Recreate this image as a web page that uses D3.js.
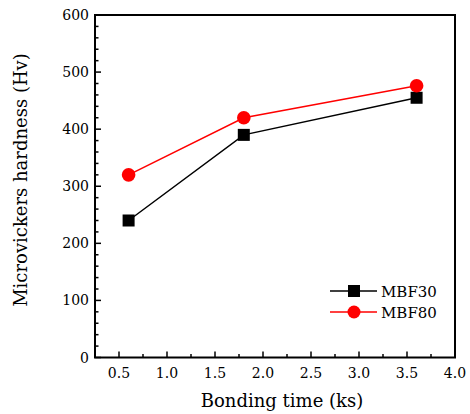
<!DOCTYPE html>
<html><head><meta charset="utf-8">
<script src="https://cdn.jsdelivr.net/npm/d3@7"></script>
<style>body{margin:0;background:#fff}svg{display:block}text{font-family:"DejaVu Serif",serif}</style>
</head><body><svg id="c" width="470" height="414"></svg>
<script>
const times = [0.6, 1.8, 3.6];
const mbf30 = [240, 390, 455];
const mbf80 = [320, 420, 476];
const xTicks = [0.5,1.0,1.5,2.0,2.5,3.0,3.5,4.0];
const yTicks = [0,100,200,300,400,500,600];

const svg = d3.select("#c");
const m = {l:95, t:15, r:455, b:357.5};
const x = d3.scaleLinear().domain([0.25,4.0]).range([m.l,m.r]);
const y = d3.scaleLinear().domain([0,600]).range([m.b,m.t]);

// frame
svg.append("rect").attr("x",m.l).attr("y",m.t).attr("width",m.r-m.l).attr("height",m.b-m.t)
  .attr("fill","none").attr("stroke","#000").attr("stroke-width",2);

// x ticks
const xMinor = d3.range(0.75,4.0,0.5);
svg.selectAll(".xt").data(xTicks).enter().append("line")
  .attr("x1",d=>x(d)).attr("x2",d=>x(d)).attr("y1",m.b).attr("y2",m.b-6).attr("stroke","#000").attr("stroke-width",1.5);
svg.selectAll(".xm").data(xMinor).enter().append("line")
  .attr("x1",d=>x(d)).attr("x2",d=>x(d)).attr("y1",m.b).attr("y2",m.b-3.5).attr("stroke","#000").attr("stroke-width",1.5);
svg.selectAll(".xl").data(xTicks).enter().append("text")
  .attr("x",d=>x(d)).attr("y",m.b+20).attr("text-anchor","middle").attr("font-size",14).text(d=>d.toFixed(1));

// y ticks
const yMinor = d3.range(0,601,20).filter(v=>v%100!==0);
svg.selectAll(".yt").data(yTicks).enter().append("line")
  .attr("x1",m.l).attr("x2",m.l+6).attr("y1",d=>y(d)).attr("y2",d=>y(d)).attr("stroke","#000").attr("stroke-width",1.5);
svg.selectAll(".ym").data(yMinor).enter().append("line")
  .attr("x1",m.l).attr("x2",m.l+3.5).attr("y1",d=>y(d)).attr("y2",d=>y(d)).attr("stroke","#000").attr("stroke-width",1.5);
svg.selectAll(".yl").data(yTicks).enter().append("text")
  .attr("x",m.l-6).attr("y",d=>y(d)+5).attr("text-anchor","end").attr("font-size",14).text(d=>d);

// titles
svg.append("text").attr("x",282).attr("y",407).attr("text-anchor","middle").attr("font-size",18).text("Bonding time (ks)");
svg.append("text").attr("transform",`translate(27,180) rotate(-90)`).attr("text-anchor","middle").attr("font-size",18).text("Microvickers hardness (Hv)");

const line = d3.line().x(d=>x(d[0])).y(d=>y(d[1]));
const s30 = times.map((t,i)=>[t,mbf30[i]]);
const s80 = times.map((t,i)=>[t,mbf80[i]]);
svg.append("path").attr("d",line(s30)).attr("fill","none").attr("stroke","#000").attr("stroke-width",1.5);
svg.append("path").attr("d",line(s80)).attr("fill","none").attr("stroke","#f00").attr("stroke-width",1.5);
svg.selectAll(".sq").data(s30).enter().append("rect")
  .attr("x",d=>x(d[0])-6).attr("y",d=>y(d[1])-6).attr("width",12).attr("height",12).attr("fill","#000");
svg.selectAll(".ci").data(s80).enter().append("circle")
  .attr("cx",d=>x(d[0])).attr("cy",d=>y(d[1])).attr("r",6.8).attr("fill","#f00");

// legend
const lg = [{name:"MBF30",c:"#000",sq:true,y:291},{name:"MBF80",c:"#f00",sq:false,y:312}];
lg.forEach(d=>{
  svg.append("line").attr("x1",330).attr("x2",377).attr("y1",d.y).attr("y2",d.y).attr("stroke",d.c).attr("stroke-width",1.5);
  if(d.sq) svg.append("rect").attr("x",354-6).attr("y",d.y-6).attr("width",12).attr("height",12).attr("fill",d.c);
  else svg.append("circle").attr("cx",354).attr("cy",d.y).attr("r",6.5).attr("fill",d.c);
  svg.append("text").attr("x",381).attr("y",d.y+5.5).attr("font-size",15).text(d.name);
});
</script></body></html>
